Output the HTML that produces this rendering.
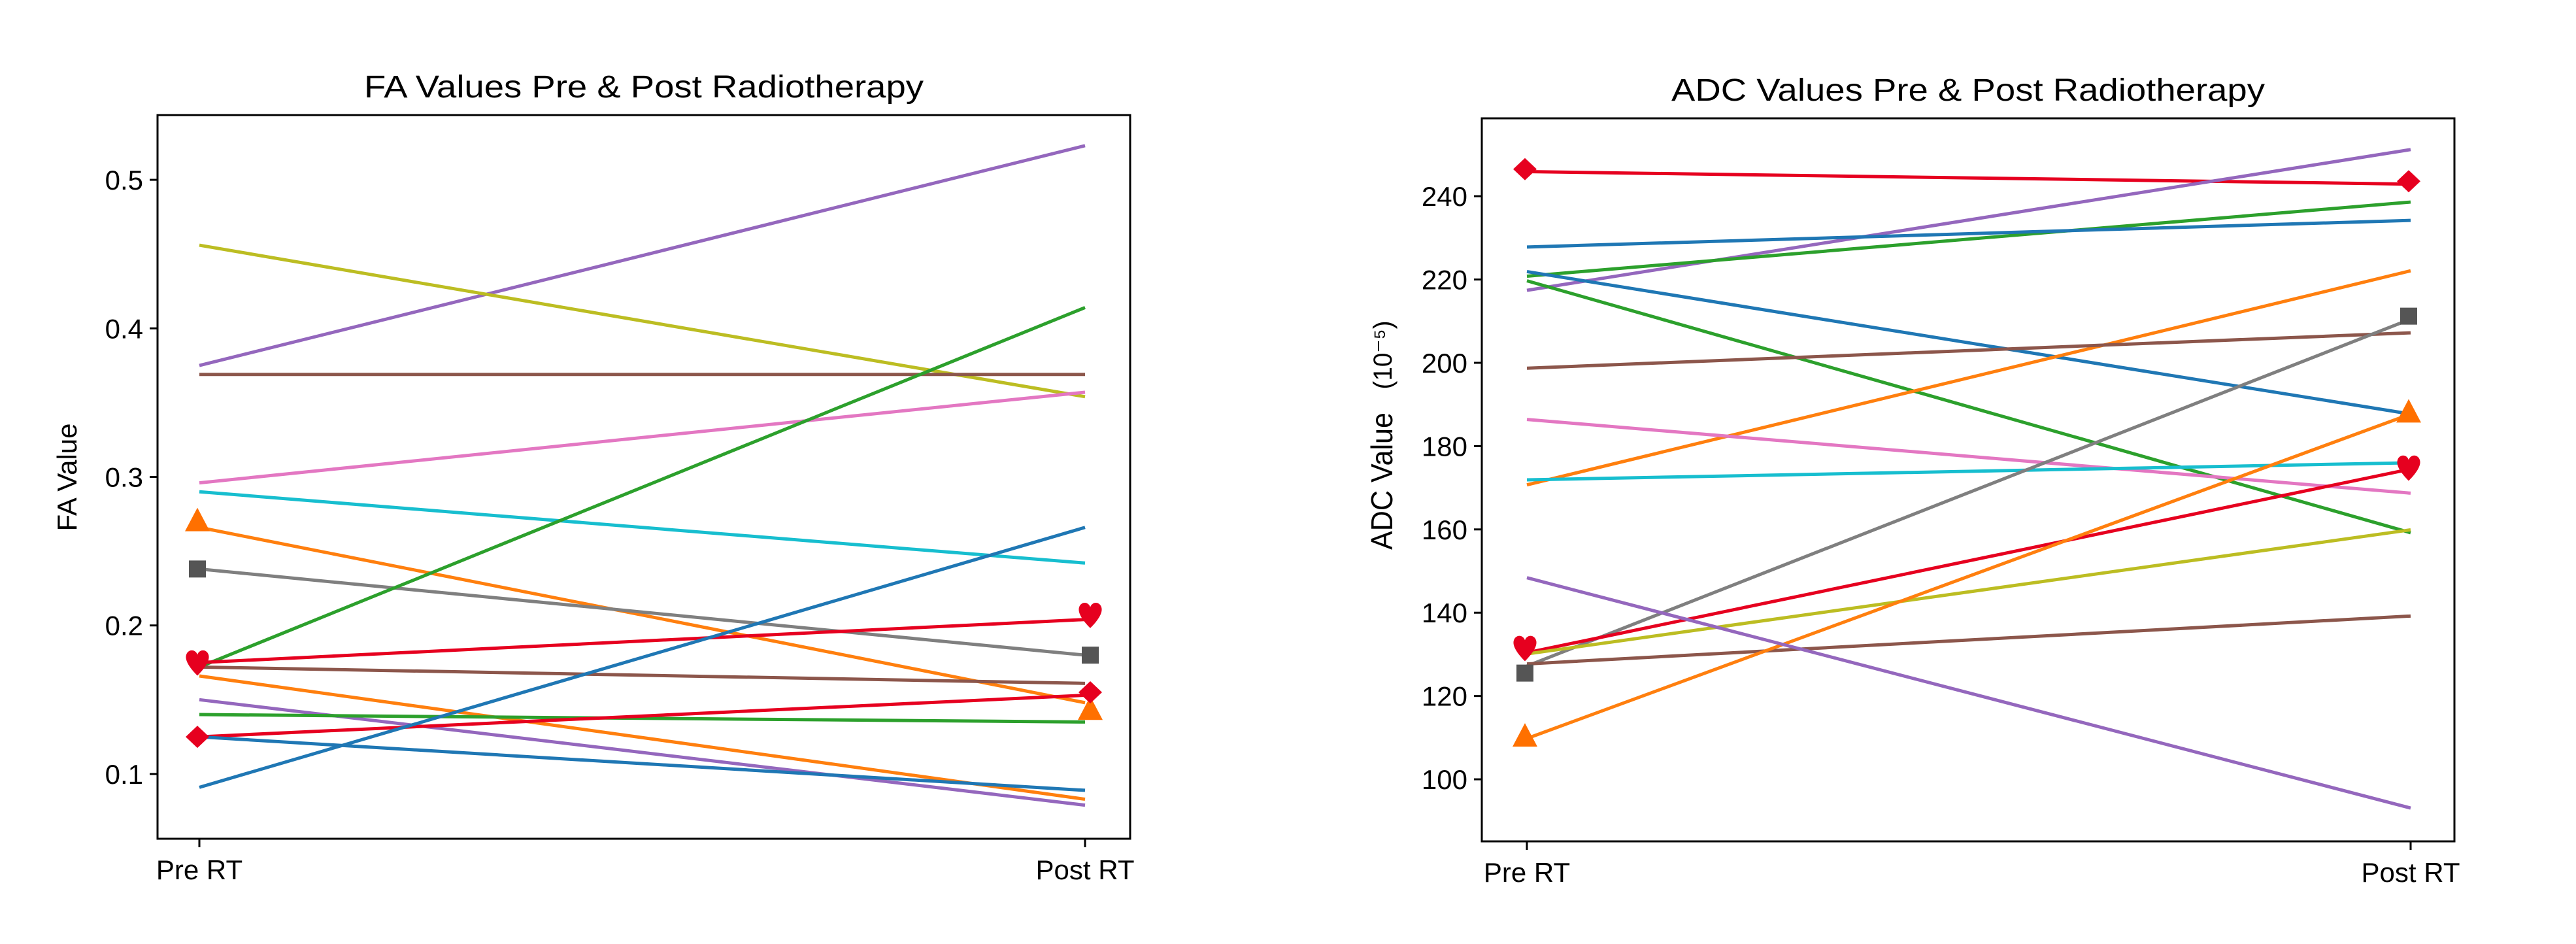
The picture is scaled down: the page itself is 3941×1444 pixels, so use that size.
<!DOCTYPE html>
<html><head><meta charset="utf-8"><style>
html,body{margin:0;padding:0;background:#fff;}
svg text{font-family:"Liberation Sans",sans-serif;fill:#000;}
</style></head><body>
<svg id="fig" width="3941" height="1439" viewBox="0 0 3941 1439" xmlns="http://www.w3.org/2000/svg">
<rect width="3941" height="1439" fill="#fff"/>
<g id="faChart"></g>
<g id="adcChart"></g>
</svg>
<script>
// ---- data ----
const categories = ["Pre RT", "Post RT"];
const faColors = ["#9467bd","#bcbd22","#8c564b","#e377c2","#17becf","#ff7f0e","#7f7f7f","#2ca02c","#e6001f","#8c564b","#ff7f0e","#9467bd","#2ca02c","#e6001f","#1f77b4","#1f77b4"];
const faPre  = [0.375,0.456,0.369,0.296,0.290,0.266,0.238,0.172,0.175,0.172,0.166,0.150,0.140,0.125,0.125,0.091];
const faPost = [0.523,0.354,0.369,0.357,0.242,0.148,0.180,0.414,0.204,0.161,0.083,0.079,0.135,0.153,0.089,0.266];
const faTicks = [0.1,0.2,0.3,0.4,0.5];
const faTickLabels = ["0.1","0.2","0.3","0.4","0.5"];
const faMarkers = [[5,"tri",0.270,0.143],[6,"sq",0.238,0.180],[8,"heart",0.175,0.207],[13,"dia",0.125,0.155]];

const adcColors = ["#e6001f","#9467bd","#2ca02c","#1f77b4","#1f77b4","#2ca02c","#ff7f0e","#8c564b","#e377c2","#17becf","#7f7f7f","#e6001f","#bcbd22","#8c564b","#ff7f0e","#9467bd"];
const adcPre  = [245.9,217.4,220.8,227.8,221.9,219.7,170.7,198.7,186.4,171.9,127.2,130.4,130.1,127.7,109.8,148.4];
const adcPost = [242.9,251.2,238.6,234.2,187.7,159.2,222.1,207.2,168.7,176.0,210.5,174.5,159.9,139.2,187.7,93.1];
const adcTicks = [100,120,140,160,180,200,220,240];
const adcTickLabels = ["100","120","140","160","180","200","220","240"];
const adcMarkers = [[0,"dia",246.5,243.6],[10,"sq",125.5,211.2],[11,"heart",131.5,174.8],[14,"tri",110.2,188.0]];

const NS = "http://www.w3.org/2000/svg";
function mk(tag, attrs, parent){const e=document.createElementNS(NS,tag);for(const k in attrs)e.setAttribute(k,attrs[k]);parent.appendChild(e);return e;}

function drawChart(g, cfg){
  const {x0,x1,y0,y1,xPre,xPost,ymin,ymax} = cfg;
  const Y = v => y1 - (v - ymin)/(ymax - ymin)*(y1 - y0);
  const X = i => i===0 ? xPre : xPost;
  const t = mk("text",{x:(x0+x1)/2,y:cfg.titleY,"text-anchor":"middle","font-size":48,textLength:cfg.titleLen,lengthAdjust:"spacingAndGlyphs"},g);
  t.textContent = cfg.title;
  
  
  for(let i=0;i<cfg.pre.length;i++){
    const l = mk("line",{x1:X(0),y1:Y(cfg.pre[i]),x2:X(1),y2:Y(cfg.post[i]),stroke:cfg.colors[i],"stroke-width":5,"stroke-linecap":"butt"},g);
    
    
  }
  cfg.markers.forEach(m=>{
    const col = m[1]==="tri" ? "#ff7000" : m[1]==="sq" ? "#555555" : "#e6001f";
    [0,1].forEach(j=>{
      const cx = X(j) + (j===0 ? -3 : cfg.postOff), cy = Y(m[2+j]);
      let e;
      if(m[1]==="tri") e = mk("polygon",{points:`${cx},${cy-21} ${cx-19},${cy+15} ${cx+19},${cy+15}`,fill:col},g);
      else if(m[1]==="sq") e = mk("rect",{x:cx-13,y:cy-13,width:26,height:26,fill:col},g);
      else if(m[1]==="dia") e = mk("polygon",{points:`${cx},${cy-17} ${cx+18},${cy} ${cx},${cy+17} ${cx-18},${cy}`,fill:col},g);
      else e = mk("path",{d:`M${cx},${cy+20} C${cx-16},${cy+4} ${cx-19},${cy-6} ${cx-17},${cy-12} C${cx-14},${cy-21} ${cx-3},${cy-21} ${cx},${cy-12} C${cx+3},${cy-21} ${cx+14},${cy-21} ${cx+17},${cy-12} C${cx+19},${cy-6} ${cx+16},${cy+4} ${cx},${cy+20} Z`,fill:col},g);
      
      
    });
  });
  const fr = mk("rect",{x:x0,y:y0,width:x1-x0,height:y1-y0,fill:"none",stroke:"#000","stroke-width":3},g);
  
  
  cfg.ticks.forEach((v,i)=>{
    const y = Y(v);
    const tk = mk("line",{x1:x0-12,y1:y,x2:x0,y2:y,stroke:"#000","stroke-width":3},g);
    
    
    const tl = mk("text",{x:x0-22,y:y+15,"text-anchor":"end","font-size":42},g);
    tl.textContent = cfg.tickLabels[i];
    
    
  });
  categories.forEach((c,i)=>{
    const x = X(i);
    const tk = mk("line",{x1:x,y1:y1,x2:x,y2:y1+13,stroke:"#000","stroke-width":3},g);
    
    
    const tl = mk("text",{x:x,y:y1+62,"text-anchor":"middle","font-size":42},g);
    tl.textContent = c;
    
    
  });
}

drawChart(document.getElementById("faChart"),{
  x0:241,x1:1729,y0:176,y1:1283,xPre:305,xPost:1660,ymin:0.0564,ymax:0.5436,postOff:8,
  title:"FA Values Pre & Post Radiotherapy",titleY:149,titleLen:856,
  pre:faPre,post:faPost,colors:faColors,ticks:faTicks,tickLabels:faTickLabels,markers:faMarkers
});
drawChart(document.getElementById("adcChart"),{
  x0:2267,x1:3755,y0:181,y1:1287,xPre:2336,xPost:3688,ymin:85.1,ymax:258.7,postOff:-3,
  title:"ADC Values Pre & Post Radiotherapy",titleY:154,titleLen:908,
  pre:adcPre,post:adcPost,colors:adcColors,ticks:adcTicks,tickLabels:adcTickLabels,markers:adcMarkers
});

const svg = document.getElementById("fig");
const yl1 = mk("text",{x:0,y:0,transform:"translate(117,730) rotate(-90)","text-anchor":"middle","font-size":42},svg);
yl1.textContent = "FA Value";


const yl2 = mk("text",{x:0,y:0,transform:"translate(2130,736) rotate(-90)","text-anchor":"middle","font-size":46,textLength:210,lengthAdjust:"spacingAndGlyphs"},svg);
yl2.textContent = "ADC Value";


const yl3 = mk("text",{x:0,y:0,transform:"translate(2129,543) rotate(-90)","text-anchor":"middle","font-size":40,textLength:105,lengthAdjust:"spacingAndGlyphs"},svg);
yl3.textContent = "(10⁻⁵)";


</script>
</body></html>
